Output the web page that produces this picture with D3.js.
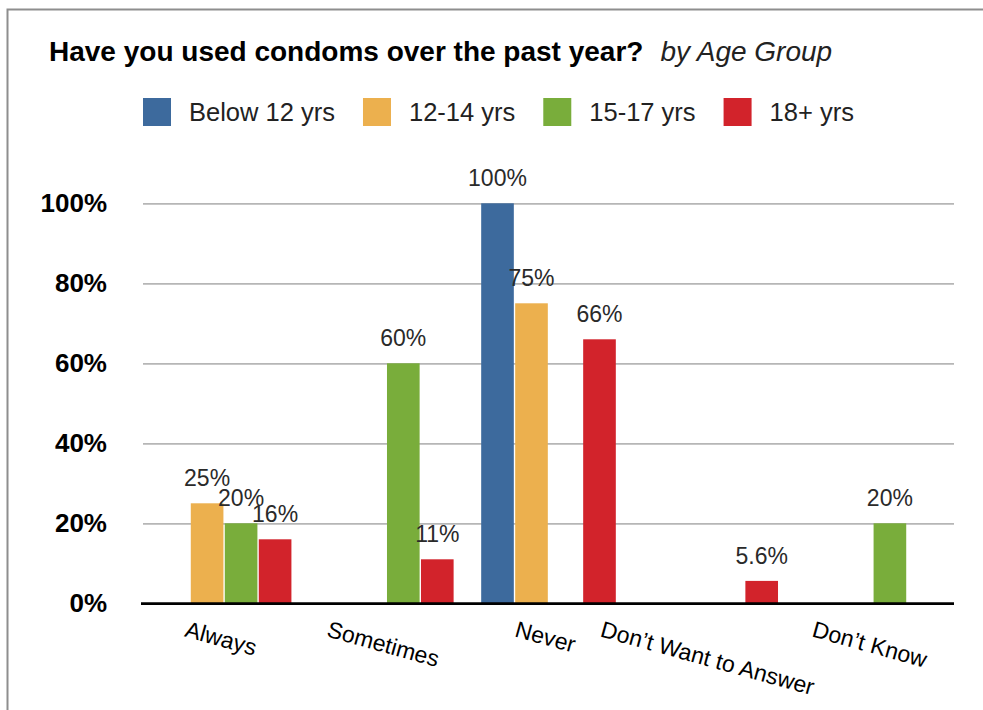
<!DOCTYPE html>
<html>
<head>
<meta charset="utf-8">
<script src="https://cdn.jsdelivr.net/npm/d3@7/dist/d3.min.js"></script>
<style>
  html, body { margin: 0; padding: 0; background: #fff; }
  svg { display: block; font-family: "Liberation Sans", Arial, Helvetica, sans-serif; }
</style>
</head>
<body>
<svg id="chart" width="983" height="710"></svg>
<script>
// ---- data ----
const categories = ["Always", "Sometimes", "Never", "Don\u2019t Want to Answer", "Don\u2019t Know"];
const seriesNames = ["Below 12 yrs", "12-14 yrs", "15-17 yrs", "18+ yrs"];
const below12   = [null, null, 100, null, null];
const age12to14 = [25,   null, 75,  null, null];
const age15to17 = [20,   60,   null, null, 20];
const age18plus = [16,   11,   66,  5.6,  null];
const yTicks = [0, 20, 40, 60, 80, 100];
const seriesColors = ["#3d6a9d", "#ecb04e", "#79ad3b", "#d2232b"];
const titleMain = "Have you used condoms over the past year?";
const titleSub = "by Age Group";

const seriesValues = [below12, age12to14, age15to17, age18plus];

const svg = d3.select("#chart");
const plot = { left: 143, right: 954, top: 203.3, bottom: 603.3 };

// frame
svg.append("path")
  .attr("d", "M7.5,710 V9.5 H983")
  .attr("fill", "none")
  .attr("stroke", "#8e8e8e")
  .attr("stroke-width", 2);

// title
const title = svg.append("text")
  .attr("x", 49).attr("y", 61)
  .attr("font-size", 28)
  .attr("fill", "#000");
title.append("tspan").attr("font-weight", "bold").text(titleMain);
title.append("tspan").attr("dx", 17).attr("font-style", "italic")
  .attr("font-weight", 300).attr("fill", "#222").text(titleSub);

// legend
const legend = svg.append("g").attr("class", "legend");
let lx = 143;
seriesNames.forEach((name, i) => {
  legend.append("rect")
    .attr("x", lx).attr("y", 98)
    .attr("width", 28).attr("height", 28)
    .attr("fill", seriesColors[i]);
  const t = legend.append("text")
    .attr("x", lx + 46).attr("y", 121)
    .attr("font-size", 25.5)
    .attr("fill", "#222")
    .text(name);
  lx = lx + 46 + t.node().getComputedTextLength() + 28;
});

// scales
const x0 = d3.scaleBand().domain(categories)
  .range([plot.left, plot.right])
  .paddingInner(0.17).paddingOuter(0.085);
const x1 = d3.scaleBand().domain(seriesNames)
  .range([0, x0.bandwidth()])
  .paddingInner(0.04);
const y = d3.scaleLinear().domain([0, 100]).range([plot.bottom, plot.top]);

// gridlines
const grid = svg.append("g")
  .attr("transform", `translate(${plot.left},0)`)
  .call(d3.axisLeft(y).tickValues(yTicks.filter(d => d > 0))
    .tickSize(-(plot.right - plot.left)).tickFormat(""));
grid.select(".domain").remove();
grid.selectAll("line").attr("stroke", "#b6b6b6").attr("stroke-width", 1.8);

// y axis labels
const yAxis = svg.append("g")
  .attr("transform", `translate(${plot.left},0)`)
  .call(d3.axisLeft(y).tickValues(yTicks).tickSize(0).tickPadding(36)
    .tickFormat(d => d + "%"));
yAxis.select(".domain").remove();
yAxis.selectAll("text")
  .attr("font-size", 26)
  .attr("font-weight", "bold")
  .attr("fill", "#000")
  .attr("font-family", "'Liberation Sans', Arial, sans-serif");

// bars
const rows = [];
categories.forEach((c, ci) => {
  seriesNames.forEach((s, si) => {
    const v = seriesValues[si][ci];
    if (v !== null && v !== undefined) rows.push({ cat: c, series: s, si, value: v });
  });
});

const bars = svg.append("g");
bars.selectAll("rect").data(rows).join("rect")
  .attr("x", d => x0(d.cat) + x1(d.series))
  .attr("y", d => y(d.value))
  .attr("width", x1.bandwidth())
  .attr("height", d => y(0) - y(d.value))
  .attr("fill", d => seriesColors[d.si]);

// value labels
svg.append("g").selectAll("text").data(rows).join("text")
  .attr("x", d => x0(d.cat) + x1(d.series) + x1.bandwidth() / 2)
  .attr("y", d => y(d.value) - 17)
  .attr("text-anchor", "middle")
  .attr("font-size", 23)
  .attr("fill", "#2a2a2a")
  .text(d => d.value + "%");

// baseline
svg.append("line")
  .attr("x1", 141).attr("x2", plot.right)
  .attr("y1", y(0) + 0.3).attr("y2", y(0) + 0.3)
  .attr("stroke", "#000").attr("stroke-width", 2.6);

// x axis labels (rotated)
const angle = 15.5;
const rad = angle * Math.PI / 180;
const xAxis = svg.append("g")
  .attr("transform", `translate(0,${y(0)})`)
  .call(d3.axisBottom(x0).tickSize(0));
xAxis.select(".domain").remove();
xAxis.selectAll("text")
  .attr("font-size", 23)
  .attr("fill", "#000")
  .attr("font-family", "'Liberation Sans', Arial, sans-serif")
  .each(function () {
    const t = d3.select(this);
    t.attr("y", 0).attr("dy", 0);
    const w = this.getComputedTextLength();
    const capH = 23 * 0.72;
    const cy = 17 + (w * Math.sin(rad) + capH * Math.cos(rad)) / 2;
    const cx = -3;
    t.attr("x", cx).attr("y", cy).attr("dy", "0.36em")
      .attr("text-anchor", "middle")
      .attr("transform", `rotate(${angle},${cx},${cy})`);
  });
</script>
</body>
</html>
